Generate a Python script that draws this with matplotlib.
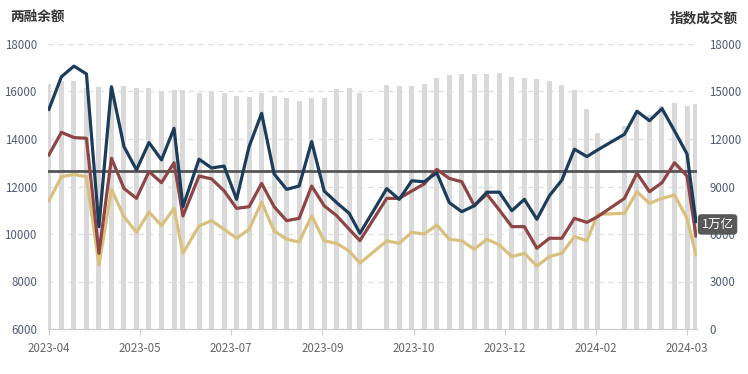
import numpy as np
import pandas as pd
import matplotlib
matplotlib.use('Agg')
import matplotlib.pyplot as plt

plt.rcParams['font.family'] = ['Noto Sans CJK SC', 'DejaVu Sans']

# weekly points (last trading day of each week)
dates = pd.to_datetime([
    '2023-04-07', '2023-04-14', '2023-04-21', '2023-04-28', '2023-05-05',
    '2023-05-12', '2023-05-19', '2023-05-26', '2023-06-02', '2023-06-09',
    '2023-06-16', '2023-06-21', '2023-06-30', '2023-07-07', '2023-07-14',
    '2023-07-21', '2023-07-28', '2023-08-04', '2023-08-11', '2023-08-18',
    '2023-08-25', '2023-09-01', '2023-09-08', '2023-09-15', '2023-09-22',
    '2023-09-28', '2023-10-13', '2023-10-20', '2023-10-27', '2023-11-03',
    '2023-11-10', '2023-11-17', '2023-11-24', '2023-12-01', '2023-12-08',
    '2023-12-15', '2023-12-22', '2023-12-29', '2024-01-05', '2024-01-12',
    '2024-01-19', '2024-01-26', '2024-02-02', '2024-02-08', '2024-02-23',
    '2024-03-01', '2024-03-08', '2024-03-15', '2024-03-22', '2024-03-29',
    '2024-04-03'])

# 指数成交额 (right axis, bars)
turnover = [15470, 15660, 15680, 15200, 15260, 15220, 15350, 15200, 15200, 15030,
            15090, 15090, 14900, 14970, 14900, 14720, 14650, 14880, 14730, 14620,
            14380, 14560, 14560, 15140, 15200, 14880, 15390, 15320, 15320, 15450,
            15830, 16020, 16090, 16100, 16090, 16150, 15900, 15830, 15770, 15650,
            15390, 15080, 13880, 12360, 12840, 13700, 13500, 14080, 14250, 14100,
            14190]

# 两融余额 (left axis, lines)
line_blue = [15250, 16620, 17070, 16740, 10310, 16200, 13680, 12700, 13850, 13120,
             14450, 11150, 13150, 12780, 12860, 11460, 13680, 15080, 12530, 11880,
             12020, 13890, 11810, 11320, 10870, 10030, 11910, 11460, 12240, 12200,
             12580, 11320, 10940, 11190, 11760, 11760, 10980, 11460, 10620, 11610,
             12270, 13570, 13260, 13540, 14200, 15170, 14770, 15280, 14340, 13370,
             10520]
line_red = [13330, 14280, 14060, 14030, 9190, 13190, 11920, 11500, 12630, 12160,
            13000, 10760, 12440, 12320, 11820, 11080, 11150, 12130, 11150, 10560,
            10660, 12020, 11190, 10770, 10200, 9720, 11500, 11500, 11810, 12110,
            12720, 12340, 12200, 11190, 11680, 11010, 10310, 10310, 9400, 9820,
            9820, 10660, 10490, 10730, 11500, 12560, 11780, 12160, 13000, 12440,
            9920]
line_gold = [11400, 12410, 12510, 12410, 8700, 11880, 10730, 10070, 10930, 10350,
             11080, 9190, 10340, 10560, 10200, 9820, 10200, 11340, 10130, 9780,
             9660, 10770, 9710, 9610, 9280, 8770, 9710, 9610, 10070, 10000,
             10380, 9780, 9710, 9360, 9780, 9540, 9050, 9190, 8650, 9050,
             9190, 9890, 9720, 10830, 10870, 11780, 11290, 11500, 11640, 10660,
             9120]

ref_level = 10000
ref_label = '1万亿'
tick_dates = [dates[0] + pd.Timedelta(days=51 * k) for k in range(8)]
tick_labels = [d.strftime('%Y-%m') for d in tick_dates]

fig = plt.figure(figsize=(7.48, 3.74), dpi=100)
fig.subplots_adjust(left=48 / 748, right=697 / 748, bottom=45 / 374, top=330 / 374)
ax = fig.add_subplot(111)
ax2 = ax.twinx()

label_color = '#4f5b78'

# bars on the right axis
ax.bar(dates, turnover, width=2.8, color='#d9d9d9', zorder=2)
ax.axhline(ref_level, color='#555555', lw=2, zorder=3)
ax.set_ylim(0, 18000)
ax.set_yticks(np.arange(0, 18001, 3000))
ax.yaxis.tick_right()
ax.tick_params(axis='y', length=0, pad=9, labelsize=8.3, labelcolor=label_color)
ax.grid(axis='y', color='#dddddd', lw=0.9, ls=(0, (4, 4)))
ax.set_axisbelow(True)

# lines on the left axis
ax2.plot(dates, line_gold, color='#dac07e', lw=2.3, zorder=3)
ax2.plot(dates, line_red, color='#8d4545', lw=2.3, zorder=4)
ax2.plot(dates, line_blue, color='#1c3c5c', lw=2.3, zorder=5)
ax2.set_ylim(6000, 18000)
ax2.set_yticks(np.arange(6000, 18001, 2000))
ax2.yaxis.tick_left()
ax2.tick_params(axis='y', length=0, pad=8, labelsize=8.3, labelcolor=label_color)

ax2.annotate(ref_label, xy=(dates[-1], line_blue[-1]), xytext=(4, -2),
             textcoords='offset points', ha='left', va='center', color='white',
             fontsize=9, annotation_clip=False,
             bbox=dict(boxstyle='round,pad=0.3', fc='#595959', ec='none'))

ax.set_xlim(dates[0] - pd.Timedelta(hours=12), dates[-1] + pd.Timedelta(hours=14))
ax.set_xticks(tick_dates)
ax.set_xticklabels(tick_labels)
ax.tick_params(axis='x', length=4, color='#cccccc', labelsize=8.3,
               labelcolor='#666666', pad=5)

for a in (ax, ax2):
    for side in ('top', 'left', 'right'):
        a.spines[side].set_visible(False)
    a.spines['bottom'].set_color('#cccccc')

fig.text(10 / 748, 1 - 17 / 374, '两融余额', fontsize=9.8, fontweight='bold',
         color='#333333', ha='left', va='center')
fig.text(738 / 748, 1 - 18 / 374, '指数成交额', fontsize=9.8, fontweight='bold',
         color='#333333', ha='right', va='center')

fig.savefig('out.png', dpi=100)
